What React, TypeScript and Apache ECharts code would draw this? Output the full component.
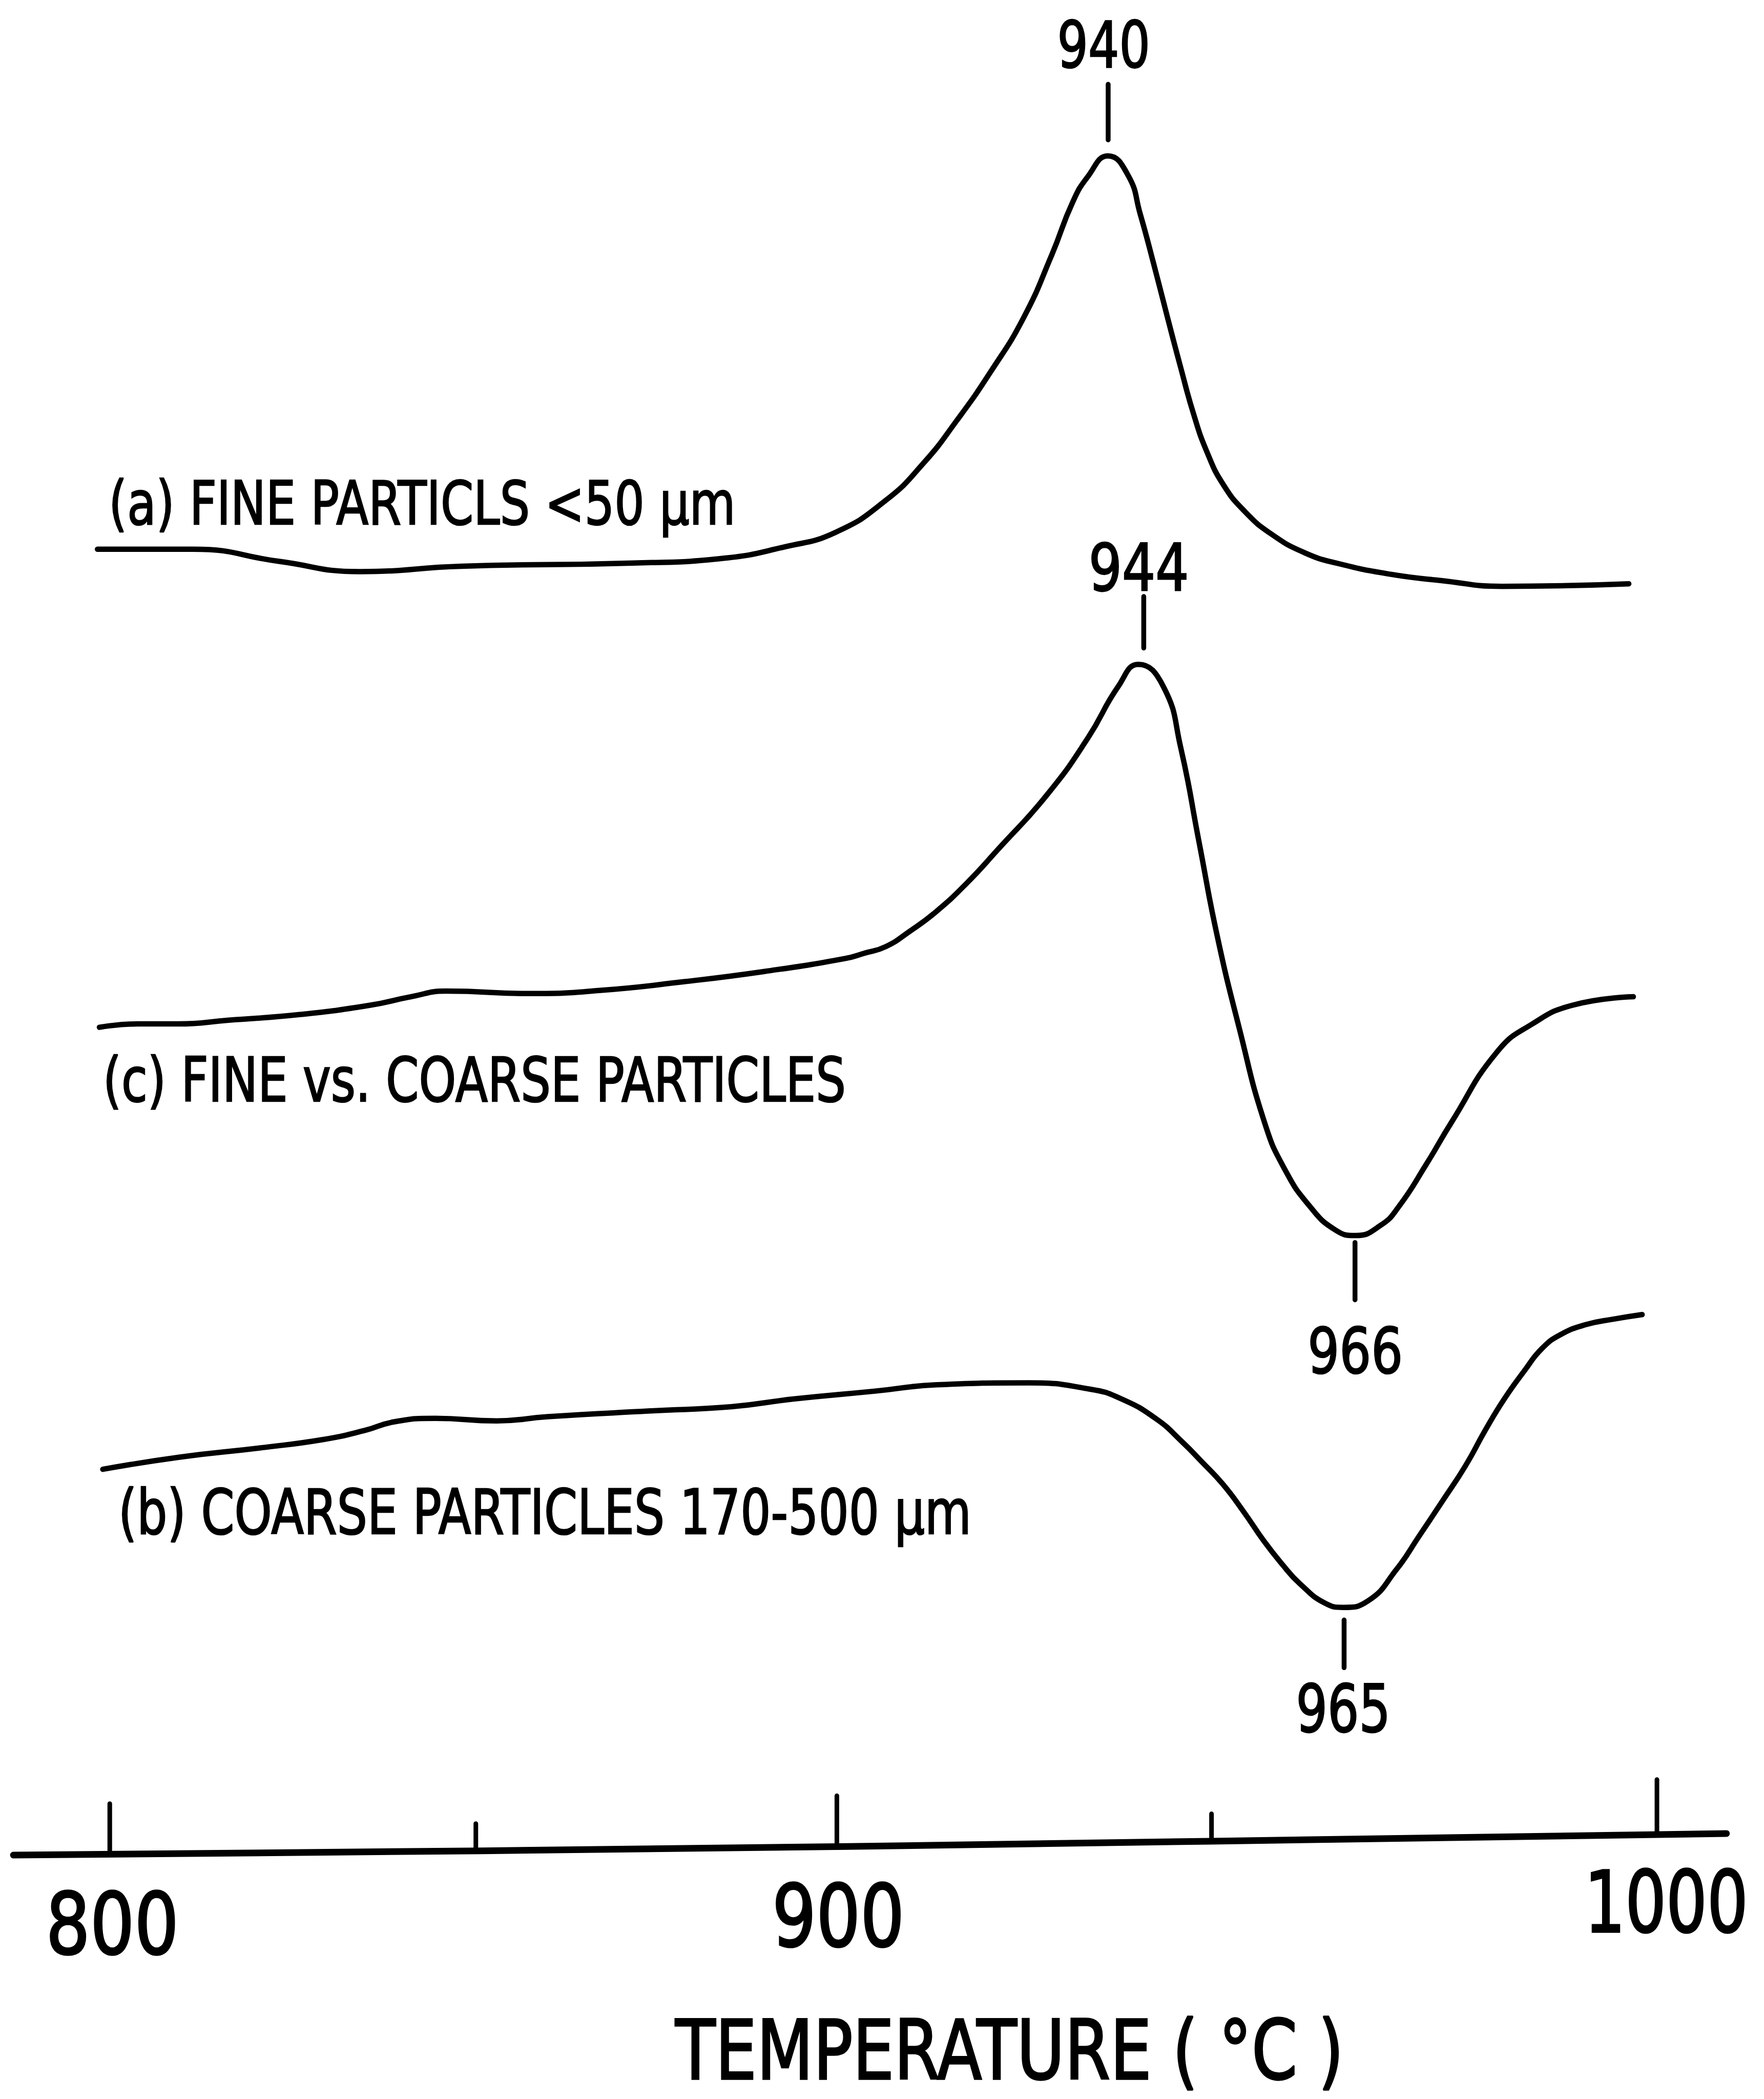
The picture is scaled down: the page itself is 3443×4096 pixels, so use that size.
import React, { useEffect, useRef } from "react";
import * as echarts from "echarts";

// ---------- scales (temperature in °C on x, arbitrary DTA signal units on y) ----------
const X_MIN = 785.81;
const X_MAX = 1013.84;
const Y_MIN = 0;
const Y_MAX = 1568;

// ---------- curve (a) FINE PARTICLS <50 µm ----------
const OFFSET_A = 1157.7;
const tempsA = [798.41, 810.81, 821.92, 832.35, 845.43, 867.64, 879.41, 887.19, 893.77, 900.29, 905.19, 909.51, 913.84, 918.16, 921.8, 924.46, 926.42, 929.03, 931.64, 933.21, 934.94, 936.68, 938.41, 940.14, 941.86, 943.94, 946.71, 950.17, 954.49, 958.82, 965.57, 972.14, 979.97, 996.36];
const signalA = [0, 0, -9.1, -16.7, -12.7, -10.3, -6.7, 1.7, 12.5, 36.4, 64.3, 96.3, 132.3, 173.3, 220.3, 259.1, 278.3, 293.8, 279.3, 250.3, 213.3, 174.3, 136.3, 100.3, 72.3, 48.3, 28.3, 11.3, -2.7, -10.7, -18.7, -23.4, -27.7, -25.8];

// ---------- curve (c) FINE vs. COARSE PARTICLES ----------
const OFFSET_C = 800.6;
const tempsC = [798.66, 803.63, 808.85, 815.39, 824.53, 833.68, 838.91, 843.47, 854.58, 863.72, 874.17, 884.62, 895.07, 897.57, 900.29, 903.46, 906.83, 910.74, 914.67, 921.19, 926.42, 930.34, 932.96, 936.21, 938.44, 940.79, 943.13, 946.02, 949.27, 951.88, 955.15, 958.42, 961.03, 964.3, 966.64, 970.17, 973.44, 979.32, 983.89, 989.11, 996.95];
const signalC = [0, 2.5, 2.5, 5.3, 9.5, 16.5, 22.8, 27, 25.2, 27.7, 34, 41.7, 51.4, 55.4, 60.2, 71.9, 86.4, 107.4, 131.9, 173.9, 215.9, 254.4, 271.1, 254.4, 208.9, 138.9, 69, -1, -71, -106, -133.9, -151.4, -155.6, -147.9, -133.9, -102.5, -71, -18.5, 2.5, 16.5, 22.8];

// ---------- curve (b) COARSE PARTICLES 170-500 µm ----------
const OFFSET_B = 470.4;
const tempsB = [799.1, 809.03, 819.6, 827.52, 832.82, 836.78, 842.07, 850.01, 856.62, 869.84, 880.41, 888.35, 898.92, 906.87, 918.77, 926.69, 930.65, 935.29, 938.59, 941.17, 943.87, 946.54, 949.17, 951.55, 953.8, 957.09, 959.48, 962.66, 966.36, 969.2, 972.31, 975.25, 977.85, 980.27, 982.87, 985.12, 987.54, 990.83, 994.29, 998.09];
const signalB = [0, 9.1, 16.1, 22.2, 28.8, 35.5, 38.1, 36.2, 39.3, 43.6, 46.8, 52.5, 58.4, 63.1, 64.6, 59.9, 52.9, 37.6, 20.7, 5.6, -11, -31.4, -53.4, -70.9, -85.2, -100, -103.2, -98.3, -74.6, -50.4, -23.4, 2.6, 29.6, 52.6, 73.6, 90.1, 100.6, 108.1, 112.1, 115.6];

// ---------- hand-drawn temperature axis ----------
const axisTemps = [787.54, 848.1, 895.33, 942.38, 1008.99];
const axisLevels = [182.2, 185.4, 188.6, 192.6, 198.3];
const tickTemps = [800, 847.32, 893.99, 942.42, 1000];
const tickBase = [183, 185.4, 189, 193, 198];
const tickTop = [220.6, 205.7, 226.5, 213, 238.6];
const tickLabels = ["800", "900", "1000"];

// ---------- peak markers ----------
const peakLabels = ["940", "944", "966", "965"];
const markerTemps = [929.06, 933.66, 960.97, 959.56];
const markerTop = [1505, 1122.4, 639.8, 357.8];
const markerBottom = [1463.5, 1083.9, 597, 322.2];

// ---------- curve captions / axis title ----------
const captions = ["(a) FINE PARTICLS <50 μm", "(c) FINE vs. COARSE PARTICLES", "(b) COARSE PARTICLES 170-500 μm"];
const axisTitle = "TEMPERATURE ( °C )";

// text layout (x anchor in °C, cap top/bottom in signal units, ink width in °C)
type TL = { text: string; x: number; center: boolean; capTop: number; capBottom: number; widthT: number };
const textLayout: TL[] = [
  { text: peakLabels[0], x: 928.46, center: true, capTop: 1552.6, capBottom: 1518, widthT: 11.25 },
  { text: peakLabels[1], x: 933.04, center: true, capTop: 1162.4, capBottom: 1127.2, widthT: 12.25 },
  { text: peakLabels[2], x: 961.0, center: true, capTop: 577, capBottom: 542.6, widthT: 11.57 },
  { text: peakLabels[3], x: 959.39, center: true, capTop: 310.1, capBottom: 274.5, widthT: 11.31 },
  { text: captions[0], x: 800.39, center: false, capTop: 1209.1, capBottom: 1176.3, widthT: 79.97 },
  { text: captions[1], x: 799.63, center: false, capTop: 778.4, capBottom: 745.2, widthT: 95.17 },
  { text: captions[2], x: 801.62, center: false, capTop: 456, capBottom: 422.3, widthT: 109.31 },
  { text: tickLabels[0], x: 800.34, center: true, capTop: 154.6, capBottom: 108.3, widthT: 16.0 },
  { text: tickLabels[1], x: 894.15, center: true, capTop: 161, capBottom: 114, widthT: 15.99 },
  { text: tickLabels[2], x: 1001.38, center: true, capTop: 171, capBottom: 124.6, widthT: 19.72 },
  { text: axisTitle, x: 873.06, center: false, capTop: 60, capBottom: 15, widthT: 85.76 },
];

const FONT_FAMILY = '"DejaVu Sans"';
const CAP_RATIO = 0.729;

const W = 3443;
const H = 4096;

export default function App() {
  const ref = useRef<HTMLDivElement>(null);

  useEffect(() => {
    const el = ref.current;
    if (!el) return;
    const chart = echarts.init(el, null, { renderer: "svg" });

    const curve = (name: string, temps: number[], sig: number[], off: number) => ({
      type: "line",
      name,
      data: temps.map((t, i) => [t, off + sig[i]]),
      symbol: "none",
      showSymbol: false,
      smooth: 0.5,
      silent: true,
      lineStyle: { color: "#000", width: 10.5, cap: "round", join: "round" },
      z: 3,
    });

    const seg = (name: string, pts: number[][], width: number) => ({
      type: "line",
      name,
      data: pts,
      symbol: "none",
      showSymbol: false,
      smooth: false,
      silent: true,
      lineStyle: { color: "#000", width, cap: "round", join: "round" },
      z: 2,
    });

    const series: any[] = [
      curve("a", tempsA, signalA, OFFSET_A),
      curve("c", tempsC, signalC, OFFSET_C),
      curve("b", tempsB, signalB, OFFSET_B),
      seg("axis", axisTemps.map((t, i) => [t, axisLevels[i]]), 13),
    ];
    tickTemps.forEach((t, i) => {
      series.push(seg("tick" + i, [[t, tickBase[i]], [t, tickTop[i]]], 9));
    });
    markerTemps.forEach((t, i) => {
      series.push(seg("marker" + i, [[t, markerBottom[i]], [t, markerTop[i]]], 9.5));
    });

    chart.setOption({
      animation: false,
      backgroundColor: "#ffffff",
      grid: { left: 0, right: 0, top: 0, bottom: 0, containLabel: false },
      xAxis: { type: "value", min: X_MIN, max: X_MAX, show: false },
      yAxis: { type: "value", min: Y_MIN, max: Y_MAX, show: false },
      series,
    });

    const canvas = document.createElement("canvas");
    const ctx = canvas.getContext("2d") as CanvasRenderingContext2D;
    const toPx = (x: number, y: number) => chart.convertToPixel({ gridIndex: 0 }, [x, y]) as number[];

    const graphics = textLayout.map((tl) => {
      const pTop = toPx(tl.x, tl.capTop);
      const pBot = toPx(tl.x, tl.capBottom);
      const capPx = Math.abs(pBot[1] - pTop[1]);
      const fontSize = capPx / CAP_RATIO;
      const font = `${fontSize.toFixed(2)}px ${FONT_FAMILY}`;
      ctx.font = font;
      const m = ctx.measureText(tl.text);
      const abl = m.actualBoundingBoxLeft || 0;
      const abr = m.actualBoundingBoxRight || m.width;
      const inkW = abl + abr;
      const targetW = Math.abs(toPx(tl.x + tl.widthT, 0)[0] - toPx(tl.x, 0)[0]);
      const s = targetW / inkW;
      const anchorX = pTop[0];
      const inkLeft = tl.center ? anchorX - targetW / 2 : anchorX;
      const x = inkLeft + s * abl;
      const yMid = (pTop[1] + pBot[1]) / 2 + 0.018 * fontSize;
      return {
        type: "text",
        x,
        y: yMid,
        scaleX: s,
        scaleY: 1,
        silent: true,
        z: 10,
        style: {
          text: tl.text,
          x: 0,
          y: 0,
          font,
          lineHeight: Math.round(fontSize * 0.8),
          fill: "#000",
          stroke: "#000",
          lineWidth: fontSize * 0.022,
          textAlign: "left",
          textVerticalAlign: "middle",
        },
      };
    });

    chart.setOption({ graphic: graphics });

    return () => {
      chart.dispose();
    };
  }, []);

  return (
    <div
      ref={ref}
      style={{ position: "absolute", left: 0, top: 0, width: W, height: H, background: "#fff" }}
    />
  );
}
